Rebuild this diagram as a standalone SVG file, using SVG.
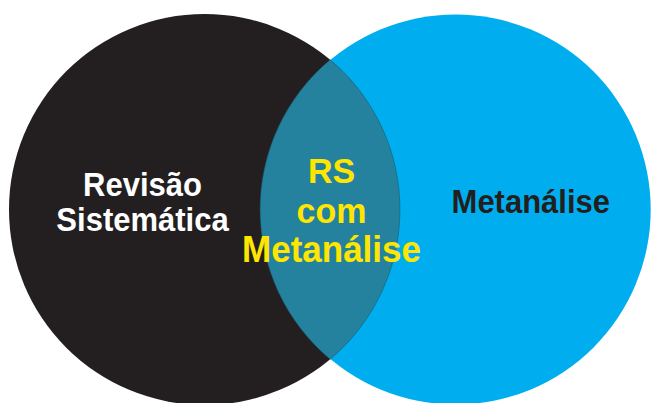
<svg xmlns="http://www.w3.org/2000/svg" width="652" height="403" viewBox="0 0 652 403">
<style>
.t{font-family:"Liberation Sans",Arial,sans-serif;font-weight:bold;text-anchor:middle}
.w{fill:#ffffff}
.y{fill:#ffe600}
.k{fill:#231f20}
</style>
<rect width="652" height="403" fill="#ffffff"/>
<g id="revisao">
<circle cx="204.5" cy="209.5" r="195.5" fill="#231f20"/>
</g>
<g id="metanalise">
<circle cx="455.7" cy="209.5" r="195" fill="#00aeef"/>
</g>
<g id="intersecao">
<path d="M330.2,59.8 A195,195 0 0 0 330.2,359.2 A195.5,195.5 0 0 0 330.2,59.8 Z" fill="#25829f" stroke="#1a5a6e" stroke-width="0.6"/>
</g>
<g id="labels">
<text class="t w" transform="translate(142.5,196) scale(1,1.07)" font-size="31">Revisão</text>
<text class="t w" transform="translate(142.5,230.7) scale(1,1.07)" font-size="31">Sistemática</text>
<text class="t y" transform="translate(331.5,182.7) scale(1,1.04)" font-size="34">RS</text>
<text class="t y" transform="translate(331.5,222.7) scale(1,1.04)" font-size="34">com</text>
<text class="t y" transform="translate(331.5,262.3) scale(1,1.04)" font-size="35">Metanálise</text>
<text class="t k" transform="translate(530.8,213.3) scale(1,1.07)" font-size="31">Metanálise</text>
</g>
</svg>
